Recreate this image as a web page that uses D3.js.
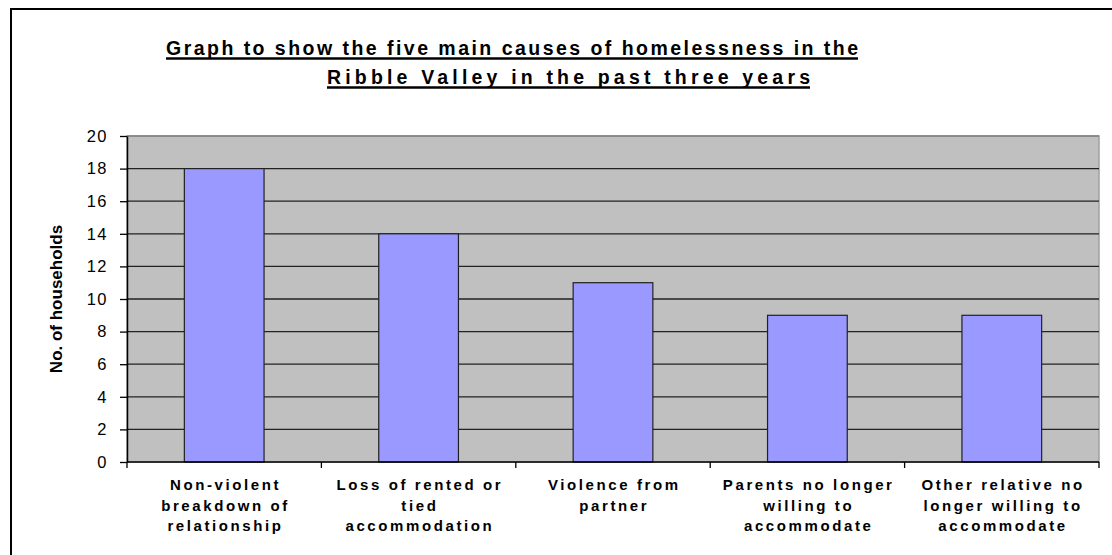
<!DOCTYPE html>
<html>
<head>
<meta charset="utf-8">
<script src="https://cdnjs.cloudflare.com/ajax/libs/d3/7.8.5/d3.min.js"></script>
<style>
  body { margin: 0; background: #fff; }
  svg { display: block; font-family: "Liberation Sans", Arial, sans-serif; }
</style>
</head>
<body>
<div id="chart"></div>
<script>
// Chart data
const categories = [
  ["Non-violent", "breakdown of", "relationship"],
  ["Loss of rented or", "tied", "accommodation"],
  ["Violence from", "partner"],
  ["Parents no longer", "willing to", "accommodate"],
  ["Other relative no", "longer willing to", "accommodate"]
];
const households = [18, 14, 11, 9, 9];
const yTicks = [0, 2, 4, 6, 8, 10, 12, 14, 16, 18, 20];
const titleLines = [
  "Graph to show the five main causes of homelessness in the",
  "Ribble Valley in the past three years"
];

drawChart();

function drawChart() {
  let W = 1112, H = 555;
  // plot area position inside the page
  let margin = { top: 136, right: 13, bottom: 93, left: 127 },
    width = W - margin.left - margin.right,
    height = H - margin.top - margin.bottom;

  let svg = d3.select("#chart").append("svg")
    .attr("width", W)
    .attr("height", H);

  // outer chart border (runs off the right and bottom edges)
  svg.append("rect")
    .attr("x", 11).attr("y", 9)
    .attr("width", 1200).attr("height", 700)
    .attr("fill", "#fff")
    .attr("stroke", "#000")
    .attr("stroke-width", 2);

  // Title, two underlined lines
  let titleSpans = [[166, 858, 55], [327, 810, 84]];
  titleLines.forEach(function (t, i) {
    let s = titleSpans[i];
    svg.append("text")
      .attr("x", s[0]).attr("y", s[2])
      .attr("textLength", s[1] - s[0])
      .attr("lengthAdjust", "spacing")
      .style("font-size", "19.5px")
      .style("font-weight", "bold")
      .style("fill", "#000")
      .text(t);
    svg.append("line")
      .attr("x1", s[0]).attr("x2", s[1])
      .attr("y1", s[2] + 3.5).attr("y2", s[2] + 3.5)
      .attr("stroke", "#000")
      .attr("stroke-width", 2.5);
  });

  let g = svg.append("g")
    .attr("transform", "translate(" + margin.left + "," + margin.top + ")");

  let x = d3.scaleBand()
    .domain(d3.range(categories.length))
    .range([0, width])
    .padding(0);

  let y = d3.scaleLinear().domain([0, 20]).range([height, 0]);

  // plot background
  g.append("rect")
    .attr("width", width).attr("height", height)
    .attr("fill", "#c0c0c0")
    .attr("stroke", "#a0a0a0")
    .attr("stroke-width", 1.5);

  // gridlines
  g.selectAll(".grid")
    .data(yTicks.filter(function (d) { return d > 0; }))
    .enter().append("line")
    .attr("x1", 0).attr("x2", width)
    .attr("y1", function (d) { return y(d); })
    .attr("y2", function (d) { return y(d); })
    .attr("stroke", function (d) { return d === 20 ? "#808080" : "#222"; })
    .attr("stroke-width", 1.3);

  // bars
  let barW = x.bandwidth() * 0.41;
  g.selectAll(".bar")
    .data(households)
    .enter().append("rect")
    .attr("x", function (d, i) { return x(i) + x.bandwidth() / 2 - barW / 2; })
    .attr("y", function (d) { return y(d); })
    .attr("width", barW)
    .attr("height", function (d) { return height - y(d); })
    .attr("fill", "#9999ff")
    .attr("stroke", "#222")
    .attr("stroke-width", 1.2);

  // Y axis
  let yAxis = g.append("g")
    .call(d3.axisLeft(y).tickValues(yTicks).tickSize(7).tickPadding(12).tickSizeOuter(0));
  yAxis.select(".domain").attr("stroke", "#000").attr("stroke-width", 1.5);
  yAxis.selectAll(".tick line").attr("stroke", "#000").attr("stroke-width", 1.3);
  yAxis.selectAll("text")
    .style("font-size", "16.5px")
    .style("letter-spacing", "1.5px")
    .style("font-family", "'Liberation Sans', Arial, sans-serif")
    .attr("fill", "#000");

  // X axis with ticks on band boundaries
  g.append("line")
    .attr("x1", 0).attr("x2", width)
    .attr("y1", height).attr("y2", height)
    .attr("stroke", "#000").attr("stroke-width", 1.5);
  g.selectAll(".xtick")
    .data(d3.range(categories.length + 1))
    .enter().append("line")
    .attr("x1", function (d) { return d * x.step(); })
    .attr("x2", function (d) { return d * x.step(); })
    .attr("y1", height).attr("y2", height + 6)
    .attr("stroke", "#000").attr("stroke-width", 1.3);

  // category labels
  categories.forEach(function (lines, i) {
    let t = g.append("text")
      .attr("x", x(i) + x.bandwidth() / 2 + 1.5)
      .attr("y", height + 28)
      .attr("text-anchor", "middle")
      .style("font-size", "15px")
      .style("font-weight", "bold")
      .style("letter-spacing", "2.6px")
      .style("fill", "#000");
    lines.forEach(function (l, j) {
      t.append("tspan")
        .attr("x", x(i) + x.bandwidth() / 2 + 1.3)
        .attr("dy", j === 0 ? 0 : 20.5)
        .text(l);
    });
  });

  // Y axis title
  svg.append("text")
    .attr("transform", "translate(62," + 299 + ") rotate(-90)")
    .attr("text-anchor", "middle")
    .style("font-size", "17px")
    .style("font-weight", "bold")
    .style("fill", "#000")
    .text("No. of households");
}
</script>
</body>
</html>
